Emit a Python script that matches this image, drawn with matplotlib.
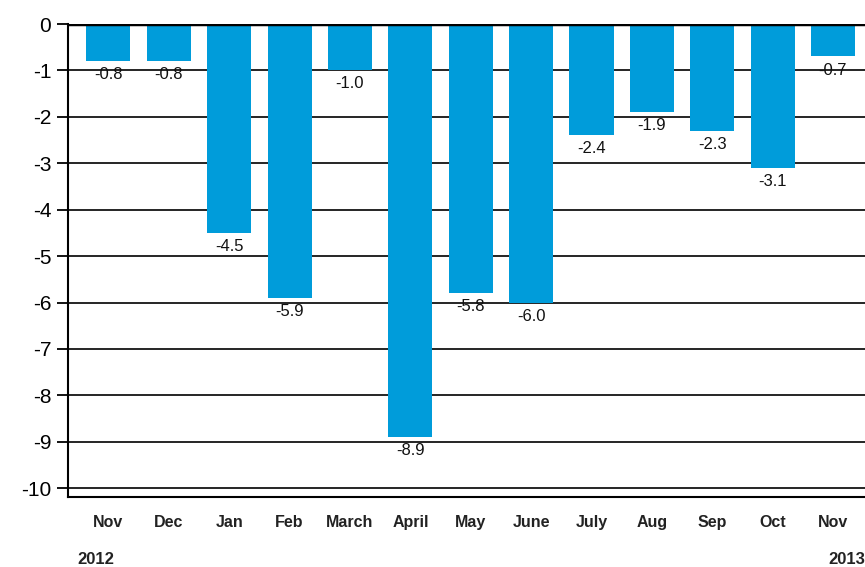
import numpy as np
import matplotlib
matplotlib.use('Agg')
import matplotlib.pyplot as plt

plt.rcParams['font.family'] = ['Liberation Sans', 'DejaVu Sans']

months = ["Nov", "Dec", "Jan", "Feb", "March", "April", "May", "June",
          "July", "Aug", "Sep", "Oct", "Nov"]
values = [-0.8, -0.8, -4.5, -5.9, -1.0, -8.9, -5.8, -6.0,
          -2.4, -1.9, -2.3, -3.1, -0.7]
years = ["2012", "2013"]

fig = plt.figure(figsize=(8.65, 5.67), dpi=100)
ax = fig.add_axes([68 / 865, 1 - 497 / 567, 1 - 68 / 865, 473 / 567])

ind = np.arange(len(months))
ax.set_axisbelow(True)
for y in range(-10, 0):
    ax.axhline(y, color='black', lw=1.2, zorder=0)
ax.bar(ind, values, 0.73, color='#009cda', zorder=2)
ax.axhline(0, color='black', lw=2.5, zorder=3)

for i, v in enumerate(values):
    ax.text(i, v - 0.13, "%.1f" % v, ha='center', va='top', fontsize=12,
            color='#111111', zorder=4)

ax.set_xlim(-0.67, 12.53)
ax.set_ylim(-10.19, 0)
ax.set_yticks(range(-10, 1))
ax.set_yticklabels([str(t) for t in range(-10, 1)], fontsize=15)
ax.tick_params(axis='y', length=8, width=1.3, pad=4)
ax.set_xticks(ind)
ax.set_xticklabels(months, fontsize=11.5, fontweight='bold', color='#222222')
ax.tick_params(axis='x', length=0, pad=13)

for side in ['top', 'right']:
    ax.spines[side].set_visible(False)
ax.spines['left'].set_linewidth(1.5)
ax.spines['bottom'].set_linewidth(1.5)

fig.text(77 / 865, 1 - 560 / 567, years[0], fontsize=12, fontweight='bold',
         va='center', ha='left', color='#222222')
fig.text(1.0, 1 - 560 / 567, years[1], fontsize=12, fontweight='bold',
         va='center', ha='right', color='#222222')

plt.savefig('out.png', dpi=100)
